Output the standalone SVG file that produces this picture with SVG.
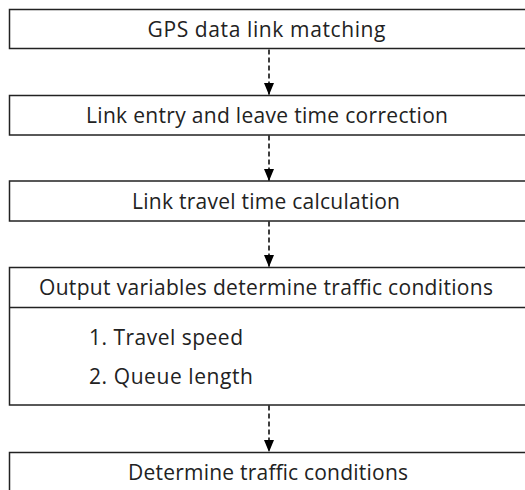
<svg xmlns="http://www.w3.org/2000/svg" width="525" height="490" viewBox="0 0 525 490">
<style>
.box{fill:#fff;stroke:#222;stroke-width:1.5}
.t{font-family:"Open Sans","Noto Sans",sans-serif;font-size:21px;fill:#222;text-anchor:middle}
.l{font-family:"Open Sans","Noto Sans",sans-serif;font-size:21px;fill:#222}
.c{stroke:#000;stroke-width:1.5;stroke-dasharray:5 3;fill:none}
</style>
<defs>
<marker id="ah" markerWidth="12" markerHeight="10" refX="12" refY="5" orient="auto" markerUnits="userSpaceOnUse" viewBox="0 0 12 10">
<path d="M0,0 L12,5 L0,10 Z" fill="#000"/>
</marker>
</defs>
<rect width="525" height="490" fill="#fff"/>
<g id="n1"><rect class="box" x="9.5" y="9.5" width="520" height="39"/><text class="t" x="266.5" y="36.5" textLength="238" lengthAdjust="spacing">GPS data link matching</text></g>
<g id="n2"><rect class="box" x="9.5" y="95.5" width="520" height="39.5"/><text class="t" x="267" y="122.5" textLength="362" lengthAdjust="spacing">Link entry and leave time correction</text></g>
<g id="n3"><rect class="box" x="9.5" y="181" width="520" height="40"/><text class="t" x="266" y="208.5" textLength="268" lengthAdjust="spacing">Link travel time calculation</text></g>
<g id="n4"><rect class="box" x="9.5" y="267.5" width="520" height="137.5"/><line x1="9.5" y1="307.5" x2="529" y2="307.5" stroke="#222" stroke-width="1.5"/><text class="t" x="266" y="294.5" textLength="454" lengthAdjust="spacing">Output variables determine traffic conditions</text><text class="l" x="89" y="345" textLength="154" lengthAdjust="spacing">1. Travel speed</text><text class="l" x="89" y="384" textLength="164" lengthAdjust="spacing">2. Queue length</text></g>
<g id="n5"><rect class="box" x="9.5" y="452.5" width="520" height="40"/><text class="t" x="268" y="479.5" textLength="280" lengthAdjust="spacing">Determine traffic conditions</text></g>
<g id="connectors">
<line class="c" x1="269" y1="49.5" x2="269" y2="95" marker-end="url(#ah)"/>
<line class="c" x1="269" y1="135.5" x2="269" y2="181" marker-end="url(#ah)"/>
<line class="c" x1="269" y1="221.5" x2="269" y2="267" marker-end="url(#ah)"/>
<line class="c" x1="269" y1="405.5" x2="269" y2="452" marker-end="url(#ah)"/>
</g>
</svg>
